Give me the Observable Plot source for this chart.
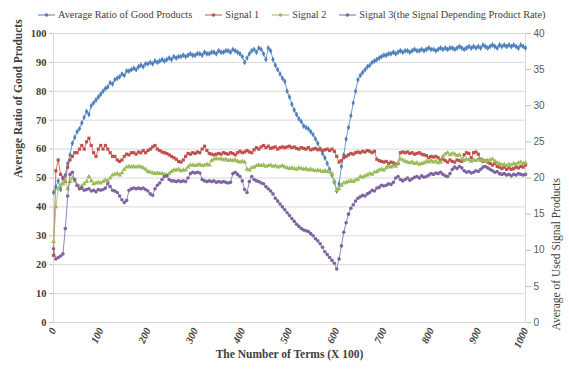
<!DOCTYPE html>
<html><head><meta charset="utf-8">
<script src="https://cdn.jsdelivr.net/npm/d3@7"></script>
<script src="https://cdn.jsdelivr.net/npm/@observablehq/plot@0.6"></script>
<style>
body{margin:0;background:#fff;}
#wrap{position:relative;width:569px;height:369px;}
#legend{position:absolute;top:9px;left:38px;display:flex;gap:13px;align-items:center;font-family:"Liberation Serif","Times New Roman","DejaVu Serif",serif;font-size:10.3px;color:#404040;white-space:nowrap;}
#legend span.item{display:flex;align-items:center;gap:3px;}
</style>
</head><body><div id="wrap"><div id="legend"></div></div>
<script>
// x positions (number of terms, ×100), one reading every 5 units
const terms = d3.range(0, 1001, 5);

// Average Ratio of Good Products (left axis, %)
const ratioGood = [
45,47,49,46,50,51,55,58,62,64,66,67,69,71,73,72,75,76,77,78,
79,80,81,81.5,83,82.5,84,84.5,85,86,85.5,87,87,87.5,88,87.5,88.5,89,88.5,89.5,
89.5,90,89.5,90.5,90,90.5,91,90.5,91,91.5,91,92,91.5,92,92,92.5,92,92.5,93,92.5,
92.5,93,93,92.5,93.5,93,93,93.5,93.5,93,94,93.5,93.5,94,94,93.5,94.5,94,93.5,93,
92,90,91.5,93,94,94.5,93.5,95,94.5,93,91,95,94,91,89,87.5,86,84.5,83.5,80,
78,75.5,73.5,72,70.5,69.5,68,67.5,67,66,65,63.5,62,60,58.5,57,55,53,51,48.5,
45.5,48,54,58,63.5,67.5,71.5,76,80,84,85.5,86.5,87.5,88.5,89,90,90.5,91,91.5,92,
92.5,92.5,93,93,93.5,93,93.5,94,93.5,94,94,93.5,94,94.5,94,94,94.5,94,94.5,95,
94.5,94.5,94,94.5,95,94.5,95,94.5,95,95,94.5,95,95.5,95,94.5,95,95.5,95,95.5,95,
95.5,95,96,95.5,95,95.5,96,95.5,95,96,95.5,96,95.5,96,95.5,96,95.5,95,96,95.5,
95];

// Signal 1 (right axis, average of used signal products)
const signal1 = [
9.3,21,22.5,20.5,20,19.5,21.5,22.5,23,23.5,23.5,24,24.5,24,25,25.5,24.5,23.5,23,24,
24.5,24,24.5,24,23.5,23,23,22.5,22.3,22.5,23,23.3,23.2,23.5,23.5,23.3,23.6,23.5,23.8,23.5,
23.8,24,24.3,24.5,24,23.8,23.6,23.5,23.4,23.2,23,22.8,22.6,22.3,22.2,22.5,23,23.4,23.3,23.5,
23.4,23.6,23.5,24,24.4,23.8,23.4,23.3,23.2,23.3,23.4,23.3,23.5,23.4,23.3,23.5,23.4,23.2,23.5,23.7,
23.5,23.6,23.8,23.6,23.5,23.9,24.2,24,24.3,24.5,24.2,24.4,24.1,24.2,24.3,24,24.2,24.3,24.2,24.3,
24.4,24.2,24.3,24.1,24,24.2,24.1,24,24.2,23.9,24,24.1,23.9,24,23.8,23.9,24,23.8,24,23.7,
23,22.2,22.4,22.8,23,23.2,23.4,23.3,23.5,23.6,23.5,23.7,23.6,23.8,23.7,23.5,23.7,22.6,22.4,22.3,
22.2,22.3,22,22.2,22.1,21.9,22,23.5,23.6,23.5,23.6,23.4,23.5,23.3,23.4,23.5,23.3,23.2,23.1,22.8,
23,22.9,23,22.8,22.5,22.6,22.4,22.2,22.5,22.3,22.2,22.5,22.4,22.3,23.2,23.5,23.4,22.8,23.5,23.6,
23.3,22.6,22.3,22.4,22.2,22,21.8,22,21.6,21.5,21.3,21.5,21.2,21.4,21.2,21.3,21.5,21.4,21.6,21.5,
21.8];

// Signal 2
const signal2 = [
11.2,16,18.5,19,19.2,19.6,18.5,19.5,20,19.6,19,18.8,18.9,19.2,19.5,20.2,19.6,19.2,19.3,19.4,
19.3,19.5,19.7,19.6,20,20.4,20.5,20.6,20.4,20.7,21.2,21.5,21.6,21.5,21.6,21.5,21.6,21.5,21.4,21.2,
20.9,20.8,20.7,20.6,20.7,20.6,20.6,20.5,20.4,20.6,20.9,21.1,21.1,21.2,21,21.1,21.1,21.5,21.8,21.8,
21.7,21.8,21.9,21.7,21.8,21.9,21.8,22.4,22.6,22.7,22.6,22.7,22.5,22.6,22.4,22.5,22.4,22.5,22.3,22.2,
22.3,22.2,21.2,21.1,21.4,21.5,21.7,21.8,21.7,21.8,21.6,21.7,21.8,21.6,21.7,21.5,21.6,21.7,21.5,21.4,
21.3,21.4,21.3,21.2,21.4,21.3,21.2,21.3,21.1,21.2,21.1,21,21.1,21,20.9,21,20.9,20.8,20.6,19.6,
18.3,18.5,19,19.3,19.4,19.5,19.6,19.5,19.7,19.8,20.2,20.1,20.3,20.4,20.6,20.5,20.8,20.9,21.1,21.2,
21.1,21.4,21.6,21.5,21.7,21.6,22.1,22.6,22.5,22.3,22.2,22.1,22.2,22,22.1,21.9,22,22.1,22.3,22.2,
22.4,22.2,22.3,22.1,22.2,23,23.3,23.5,23.2,23.4,23.3,23.1,23.2,22.6,22.4,22.6,22.5,22.3,22.5,22.4,
22.6,22.4,22.5,22.3,22.4,22.5,22.6,22.3,22.1,22,21.8,21.9,21.7,21.9,21.8,22,21.9,22.1,22.2,22,
22.1];

// Signal 3 (the Signal Depending Product Rate)
const signal3 = [
10.2,8.8,9,9.2,9.5,13,17.5,20.5,20.8,19.8,19,18.5,18.6,18.3,18.4,18.5,18.2,18.3,18.1,18.4,
18.3,18.4,18.6,19.2,18.8,18.3,18.2,18,17.5,17,16.6,16.9,18.3,18.5,18.6,18.5,18.6,18.5,18.6,18.4,
18.2,17.8,17.6,18.5,19,19.3,19.8,20.2,20.3,19.8,19.6,19.6,19.5,19.6,19.5,19.6,19.5,20,20.6,20.8,
20.7,20.8,20.7,19.8,19.6,19.5,19.6,19.5,19.6,19.4,19.5,19.4,19.5,19.4,19.3,19.4,20.6,20.8,20.5,20.2,
19.6,18.4,18,19.5,20.2,19.8,19.6,19.5,19.3,19.2,18.8,18.5,18.2,17.8,17.2,16.8,16.4,16,15.6,15.2,
14.8,14.4,14,13.6,13.3,13,12.8,12.7,12.6,12.3,12,11.6,11.3,10.9,10.4,9.8,9.4,9,8.6,8.2,
7.4,8.8,10.6,12.5,13.8,15,15.8,16.3,16.8,17.2,17.4,17.6,17.5,17.8,18,18.3,18.2,18.6,18.7,19,
18.9,19,19.2,19.1,19.4,20,20.2,19.8,19.6,19.8,20,19.7,19.9,20.1,20.2,20,20.3,20.1,20.2,20.4,
20.6,20.5,20.7,20.6,20.8,20.5,20.3,20.2,20.6,21.2,21.5,21.3,21.6,21.4,21,20.8,20.9,20.7,20.8,21,
20.9,21.2,21.5,21.6,21.4,21.2,21,20.8,20.9,20.6,20.5,20.6,20.4,20.5,20.3,20.5,20.4,20.6,20.5,20.4,
20.5];

const seriesNames = ["Average Ratio of Good Products", "Signal 1", "Signal 2", "Signal 3(the Signal Depending Product Rate)"];
const seriesColors = ["#4F81BD", "#C0504D", "#9BBB59", "#8064A2"];
const leftTicks = [0,10,20,30,40,50,60,70,80,90,100];
const rightTicks = [0,5,10,15,20,25,30,35,40];
const xTicks = [0,100,200,300,400,500,600,700,800,900,1000];
const leftTitle = "Average Ratio of Good Products";
const rightTitle = "Average of Used Signal Products";
const xTitle = "The Number of Terms (X 100)";

const serif = "'Liberation Serif', 'Times New Roman', 'DejaVu Serif', serif";

// right axis 0–40 maps onto left axis 0–100
const k = 100 / 40;
const seriesValues = [ratioGood, signal1, signal2, signal3];
const scaleFactor = [1, k, k, k];
const rows = [];
seriesValues.forEach((vals, i) => {
  vals.forEach((v, j) => rows.push({term: terms[j], y: v * scaleFactor[i], series: seriesNames[i]}));
});

const symbols = ["diamond", "square", "triangle", "circle"];
const seriesMarks = [];
seriesNames.forEach((name, i) => {
  const d = rows.filter(r => r.series === name);
  seriesMarks.push(Plot.line(d, {x: "term", y: "y", stroke: seriesColors[i], strokeWidth: 1, strokeOpacity: 0.8}));
  seriesMarks.push(Plot.dot(d, {x: "term", y: "y", fill: seriesColors[i], r: 1.8, symbol: symbols[i], stroke: "none"}));
});

const chart = Plot.plot({
  width: 569, height: 369,
  marginLeft: 53, marginRight: 44, marginTop: 33, marginBottom: 47,
  x: {domain: [0, 1000]},
  y: {domain: [0, 100]},
  style: {fontFamily: serif, background: "transparent", overflow: "visible"},
  marks: [
    Plot.gridY(leftTicks.filter(d => d > 0), {stroke: "#d9d9d9", strokeOpacity: 1}),
    Plot.ruleX([0, 1000], {stroke: "#d9d9d9"}),
    Plot.ruleY([0], {stroke: "#d9d9d9"}),
    Plot.axisY(leftTicks, {anchor: "left", tickSize: 4, tickPadding: 3, fontWeight: "bold", fontSize: 10.5, fontFamily: serif, label: null, stroke: "#bfbfbf", fill: "#404040"}),
    Plot.axisY(rightTicks.map(v => v * k), {anchor: "right", tickSize: 5, tickPadding: 3, tickFormat: d => String(d / k), fontFamily: "'Liberation Sans', Arial, sans-serif", fontSize: 10, label: null, stroke: "#bfbfbf", fill: "#595959"}),
    Plot.axisX(xTicks, {anchor: "bottom", tickSize: 0, tickPadding: 6, tickRotate: -65, textAnchor: "end", tickFormat: d => String(d), fontWeight: "bold", fontStyle: "italic", fontSize: 10.5, fontFamily: serif, label: null, fill: "#404040"}),
    ...seriesMarks,
    Plot.text([leftTitle], {frameAnchor: "left", rotate: -90, dx: -35, fontWeight: "bold", fontSize: 11.5, fontFamily: serif, fill: "#404040", text: d => d}),
    Plot.text([rightTitle], {frameAnchor: "right", rotate: -90, dx: 31, fontSize: 11.5, fontFamily: serif, fill: "#404040", text: d => d}),
    Plot.text([xTitle], {frameAnchor: "bottom", dy: 35, fontWeight: "bold", fontSize: 11.5, fontFamily: serif, fill: "#404040", text: d => d})
  ]
});
document.getElementById("wrap").appendChild(chart);

const legend = document.getElementById("legend");
seriesNames.forEach((name, i) => {
  const item = document.createElement("span");
  item.className = "item";
  item.innerHTML = `<svg width="17" height="8"><line x1="0" y1="4" x2="17" y2="4" stroke="${seriesColors[i]}" stroke-width="1"/><circle cx="8.5" cy="4" r="1.8" fill="${seriesColors[i]}"/></svg>`;
  const t = document.createElement("span");
  t.textContent = name;
  item.appendChild(t);
  legend.appendChild(item);
});
</script>
</body></html>
